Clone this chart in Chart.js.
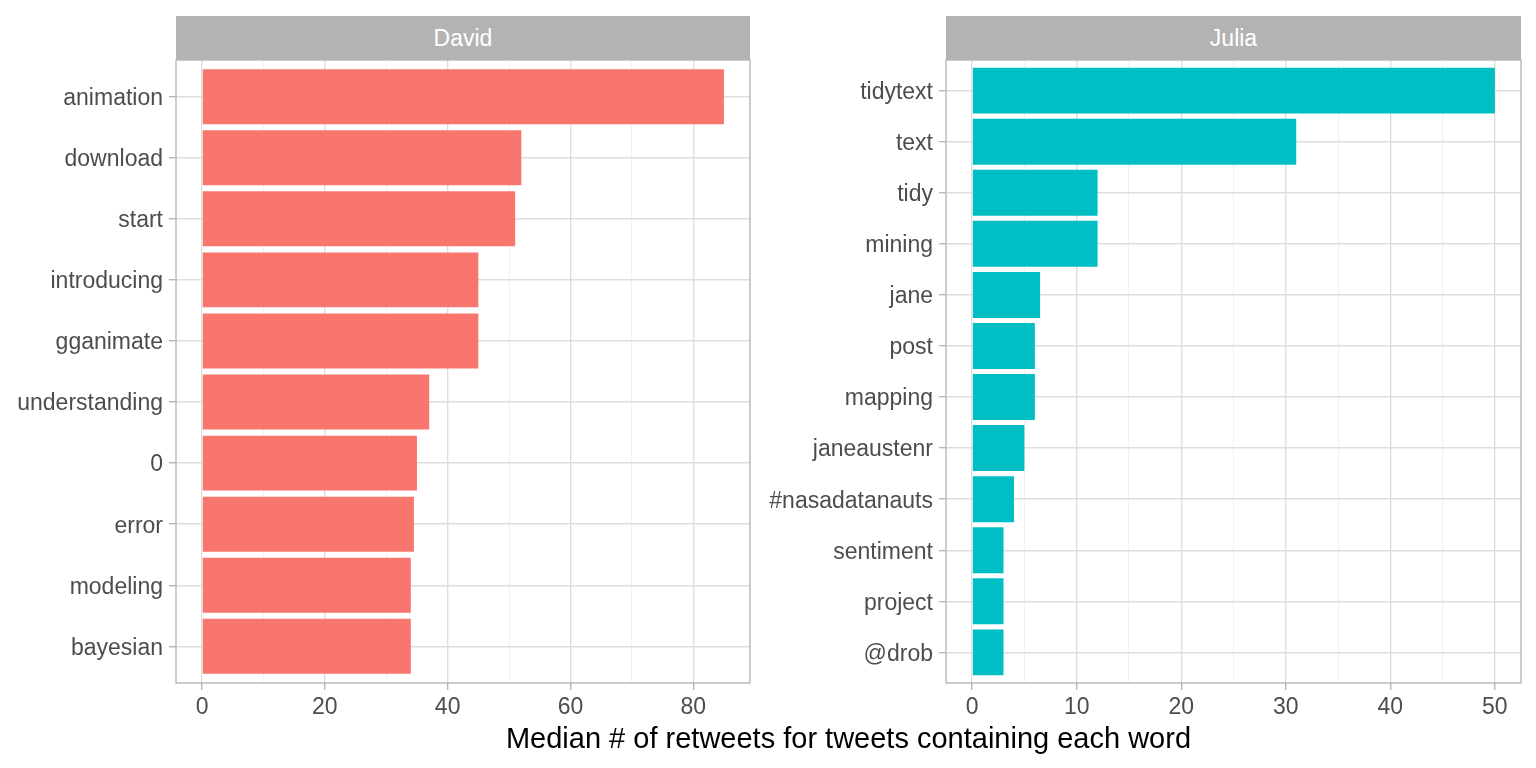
<!DOCTYPE html>
<html>
<head>
<meta charset="utf-8">
<script src="https://cdn.jsdelivr.net/npm/chart.js@4/dist/chart.umd.min.js"></script>
<style>
  body { margin: 0; background: #fff; font-family: "Liberation Sans", Arial, sans-serif; }
  #wrap { position: relative; width: 1536px; height: 768px; }
  canvas { position: absolute; top: 0; }
  .strip { position: absolute; top: 16px; height: 44px; line-height: 44px; background: #b3b3b3;
           color: #fff; text-align: center; font-size: 23px; }
  #xtitle { position: absolute; top: 720px; left: 176px; width: 1345px; text-align: center;
            font-size: 29px; line-height: 36px; color: #000; }
</style>
</head>
<body>
<div id="wrap">
  <canvas id="david" width="760" height="768" style="left:0px"></canvas>
  <canvas id="julia" width="776" height="768" style="left:760px"></canvas>
  <div class="strip" style="left:176px;width:574px">David</div>
  <div class="strip" style="left:946px;width:575px">Julia</div>
  <div id="xtitle">Median # of retweets for tweets containing each word</div>
</div>
<script>
// data, top to bottom
const davidWords = ['animation', 'download', 'start', 'introducing', 'gganimate',
  'understanding', '0', 'error', 'modeling', 'bayesian']
const davidValues = [85, 52, 51, 45, 45, 37, 35, 34.5, 34, 34]

const juliaWords = ['tidytext', 'text', 'tidy', 'mining', 'jane', 'post', 'mapping',
  'janeaustenr', '#nasadatanauts', 'sentiment', 'project', '@drob']
const juliaValues = [50, 31, 12, 12, 6.5, 6, 6, 5, 4, 3, 3, 3]

// x tick labels (major); minor lines sit half way between
const davidTicks = [0, 20, 40, 60, 80]
const juliaTicks = [0, 10, 20, 30, 40, 50]

const labelColor = '#4d4d4d'
const font = { family: "'Liberation Sans', Arial, sans-serif", size: 23 }

const panelBorder = {
  id: 'panelBorder',
  afterDraw(chart) {
    const a = chart.chartArea
    const ctx = chart.ctx
    ctx.save()
    ctx.strokeStyle = '#b3b3b3'
    ctx.lineWidth = 1.3
    ctx.strokeRect(a.left, a.top, a.right - a.left, a.bottom - a.top)
    ctx.restore()
  }
}

function makeChart(id, words, values, color, majors, yWidth, rightPad) {
  const maxV = Math.max(...values)
  const expand = maxV * 0.05
  const major = majors[1] - majors[0]
  const minorVals = []
  for (let i = 0; i < majors.length; i++) {
    minorVals.push(majors[i])
    if (majors[i] + major / 2 <= maxV + expand) minorVals.push(majors[i] + major / 2)
  }
  const isMajor = (v) => majors.includes(v)

  return new Chart(document.getElementById(id), {
    type: 'bar',
    data: {
      datasets: [{
        data: values.map((v, i) => ({ x: v, y: i })),
        backgroundColor: color,
        borderWidth: 0,
        categoryPercentage: 1,
        barPercentage: 0.9,
      }]
    },
    options: {
      indexAxis: 'y',
      responsive: false,
      animation: false,
      devicePixelRatio: 1,
      layout: { padding: { top: 60, right: rightPad, bottom: 45, left: 0 } },
      plugins: { legend: { display: false }, tooltip: { enabled: false } },
      scales: {
        x: {
          type: 'linear',
          min: -expand,
          max: maxV + expand,
          afterBuildTicks: (axis) => { axis.ticks = minorVals.map(v => ({ value: v })) },
          afterFit: (scale) => { scale.height = 40 },
          border: { display: false },
          grid: {
            color: (c) => isMajor(c.tick.value) ? '#dedede' : '#eeeeee',
            lineWidth: (c) => isMajor(c.tick.value) ? 1.4 : 0.8,
            tickColor: (c) => isMajor(c.tick.value) ? '#b3b3b3' : 'rgba(0,0,0,0)',
            tickLength: 7,
            tickWidth: 1.3,
          },
          ticks: {
            color: labelColor,
            font: font,
            padding: 4,
            maxRotation: 0,
            autoSkip: false,
            callback: (v) => isMajor(v) ? String(v) : '',
          }
        },
        y: {
          type: 'linear',
          reverse: true,
          offset: false,
          min: -0.6,
          max: words.length - 0.4,
          afterBuildTicks: (axis) => { axis.ticks = words.map((w, i) => ({ value: i })) },
          afterFit: (scale) => { scale.width = yWidth },
          border: { display: false },
          grid: {
            offset: false,
            color: '#dedede',
            lineWidth: 1.4,
            tickColor: '#b3b3b3',
            tickLength: 7,
            tickWidth: 1.3,
          },
          ticks: {
            color: labelColor,
            font: font,
            padding: 6,
            labelOffset: 2,
            autoSkip: false,
            callback: (v) => words[v],
          }
        }
      }
    },
    plugins: [panelBorder]
  })
}

makeChart('david', davidWords, davidValues, '#F8766D', davidTicks, 176, 10)
makeChart('julia', juliaWords, juliaValues, '#00BFC4', juliaTicks, 186, 15)
</script>
</body>
</html>
